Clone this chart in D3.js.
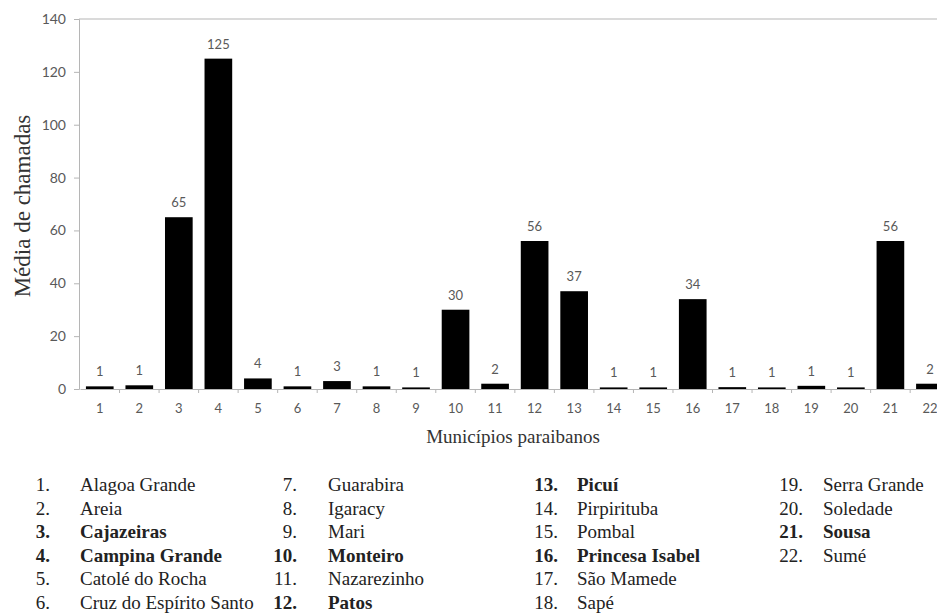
<!DOCTYPE html>
<html>
<head>
<meta charset="utf-8">
<script src="https://cdn.jsdelivr.net/npm/d3@7"></script>
<style>
  html, body { margin: 0; padding: 0; background: #fff; }
  svg { display: block; }
</style>
</head>
<body>
<svg id="chart" width="937" height="613"></svg>
<script>
// ---- data ----
const categories = ["1","2","3","4","5","6","7","8","9","10","11","12","13","14","15","16","17","18","19","20","21","22"];
const values = [1.0, 1.4, 65, 125, 4, 1.0, 3, 1.0, 0.6, 30, 2, 56, 37, 0.6, 0.6, 34, 0.7, 0.6, 1.2, 0.6, 56, 2];
const valueLabels = ["1","1","65","125","4","1","3","1","1","30","2","56","37","1","1","34","1","1","1","1","56","2"];
const yTicks = [0, 20, 40, 60, 80, 100, 120, 140];
const municipios = ["Alagoa Grande","Areia","Cajazeiras","Campina Grande","Catolé do Rocha","Cruz do Espírito Santo",
  "Guarabira","Igaracy","Mari","Monteiro","Nazarezinho","Patos",
  "Picuí","Pirpirituba","Pombal","Princesa Isabel","São Mamede","Sapé",
  "Serra Grande","Soledade","Sousa","Sumé"];
const destacados = [3, 4, 10, 12, 13, 16, 21];
const yTitle = "Média de chamadas";
const xTitle = "Municípios paraibanos";

// ---- layout ----
const svg = d3.select("#chart");
const x0 = 80, x1 = 949.7, yTop = 19, yBot = 389;

const x = d3.scaleBand().domain(categories).range([x0, x1]).paddingInner(0.3).paddingOuter(0.15);
const y = d3.scaleLinear().domain([0, 140]).range([yBot, yTop]);

const axisColor = "#b5b5b5";
const tickText = "#595959";
const sans = "Lato, 'Open Sans', sans-serif";
const serif = "'Liberation Serif', 'DejaVu Serif', serif";

// top border
svg.append("line").attr("x1", x0 - 1).attr("x2", 937).attr("y1", y(140)).attr("y2", y(140))
  .attr("stroke", axisColor).attr("stroke-width", 1);

// y axis
const yAxis = d3.axisLeft(y).tickValues(yTicks).tickSize(5).tickPadding(8);
const gy = svg.append("g").attr("transform", `translate(${x0 - 1},0)`).call(yAxis);
gy.select(".domain").attr("stroke", axisColor);
gy.selectAll(".tick line").attr("stroke", axisColor);
gy.selectAll(".tick text").attr("fill", tickText).style("font-family", sans).style("font-size", "14px");

// x axis
const xAxis = d3.axisBottom(x).tickSize(0).tickPadding(15);
const gx = svg.append("g").attr("transform", `translate(0,${yBot})`).call(xAxis);
gx.select(".domain").attr("stroke", axisColor);
gx.selectAll(".tick text").attr("fill", tickText).style("font-family", sans).style("font-size", "13px");
// boundary tick marks
const step = x.step();
gx.selectAll(".bound").data(categories).enter().append("line")
  .attr("x1", d => x(d) - (step - x.bandwidth()) / 2 + step)
  .attr("x2", d => x(d) - (step - x.bandwidth()) / 2 + step)
  .attr("y1", 0).attr("y2", 4).attr("stroke", axisColor);

// bars
svg.append("g").selectAll("rect").data(values).enter().append("rect")
  .attr("x", (d, i) => x(categories[i]))
  .attr("width", x.bandwidth())
  .attr("y", d => y(d))
  .attr("height", d => y(0) - y(d))
  .attr("fill", "#000");

// value labels
svg.append("g").selectAll("text").data(values).enter().append("text")
  .attr("x", (d, i) => x(categories[i]) + x.bandwidth() / 2)
  .attr("y", d => y(d) - 10)
  .attr("text-anchor", "middle")
  .attr("fill", tickText)
  .style("font-family", sans).style("font-size", "13px")
  .text((d, i) => valueLabels[i]);

// axis titles
svg.append("text")
  .attr("transform", `translate(30,206) rotate(-90)`)
  .attr("text-anchor", "middle")
  .attr("fill", "#333")
  .style("font-family", serif).style("font-size", "23px")
  .text(yTitle);

svg.append("text")
  .attr("x", 513).attr("y", 443)
  .attr("text-anchor", "middle")
  .attr("fill", "#333")
  .style("font-family", serif).style("font-size", "19px")
  .text(xTitle);

// legend
const colNumX = [50, 297, 558, 803];
const colNameX = [80, 328, 577, 823];
const rowY0 = 491, rowStep = 23.6;
const leg = svg.append("g").style("font-family", serif).style("font-size", "19px").attr("fill", "#222");
municipios.forEach((name, i) => {
  const col = Math.floor(i / 6), row = i % 6;
  const bold = destacados.includes(i + 1);
  const yy = rowY0 + row * rowStep;
  leg.append("text").attr("x", colNumX[col]).attr("y", yy).attr("text-anchor", "end")
    .style("font-weight", bold ? "bold" : "normal").text((i + 1) + ".");
  leg.append("text").attr("x", colNameX[col]).attr("y", yy)
    .style("font-weight", bold ? "bold" : "normal").text(name);
});
</script>
</body>
</html>
